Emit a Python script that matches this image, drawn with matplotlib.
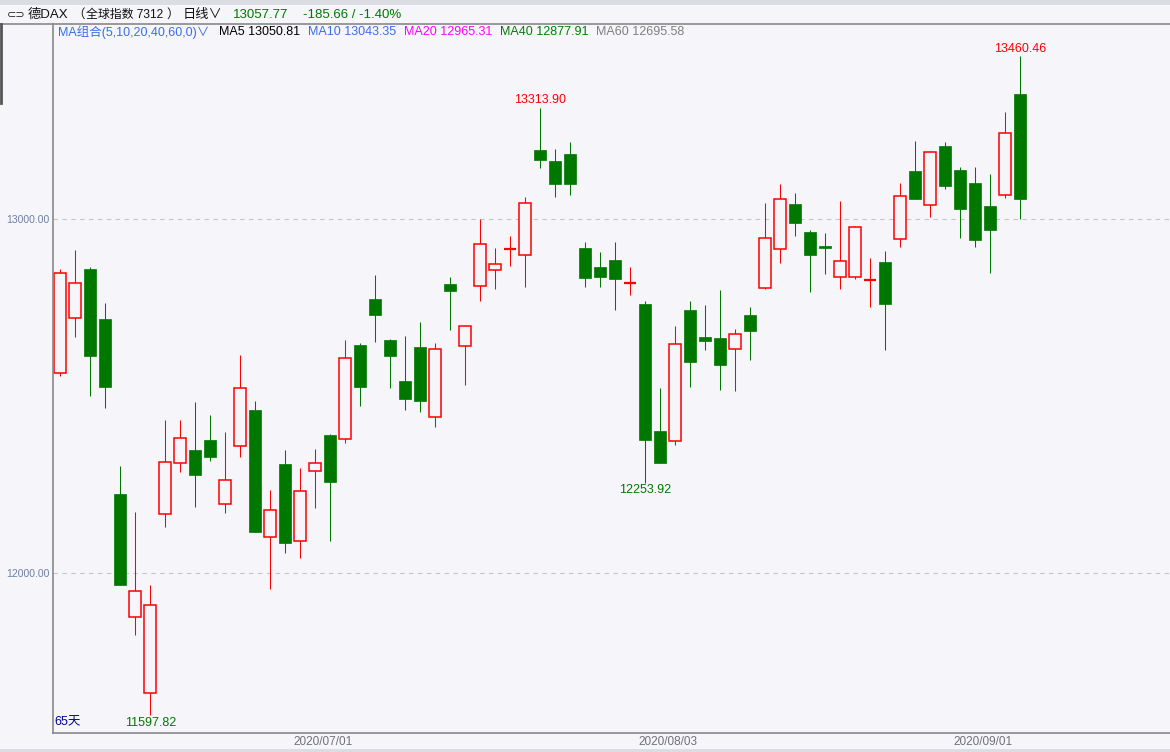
import matplotlib
matplotlib.use('Agg')
import matplotlib.pyplot as plt
from matplotlib.patches import Rectangle
from matplotlib.lines import Line2D

# daily DAX candles, 65 days (2020-06-05 .. 2020-09-03)
opens = [12564, 12719, 12859, 12718, 12223, 11875, 11660, 12166, 12310, 12347,
         12376, 12194, 12358, 12460, 12101, 12308, 12090, 12287, 12390, 12378,
         12644, 12774, 12658, 12542, 12638, 12440, 12816, 12640, 12810, 12855,
         12915, 12898, 13195, 13164, 13184, 12918, 12864, 12884, 12820, 12760,
         12401, 12372, 12743, 12667, 12664, 12632, 12729, 12804, 12914, 13042,
         12963, 12924, 12835, 12835, 12827, 12879, 12943, 13136, 13039, 13206,
         13138, 13102, 13037, 13069, 13353]
highs = [12859, 12912, 12864, 12763, 12302, 12172, 11966, 12432, 12432, 12483,
         12446, 12398, 12616, 12486, 12234, 12347, 12297, 12350, 12392, 12658,
         12650, 12842, 12661, 12670, 12709, 12650, 12836, 12697, 13000, 12918,
         12952, 13062, 13313.90, 13198, 13218, 12935, 12907, 12935, 12864, 12768,
         12523, 12697, 12768, 12757, 12799, 12689, 12751, 13045, 13099, 13074,
         12969, 12960, 13051, 12980, 12890, 12910, 13102, 13220, 13192, 13218,
         13147, 13147, 13127, 13302, 13460.46]
lows = [12557, 12668, 12501, 12467, 11967, 11826, 11597.82, 12131, 12286, 12187,
        12317, 12170, 12329, 12117, 11956, 12057, 12043, 12184, 12091, 12368,
        12473, 12653, 12523, 12461, 12456, 12413, 12686, 12532, 12769, 12803,
        12868, 12809, 13145, 13063, 13069, 12809, 12809, 12744, 12786, 12253.92,
        12312, 12362, 12526, 12631, 12518, 12515, 12603, 12801, 12877, 12953,
        12795, 12846, 12803, 12831, 12752, 12631, 12922, 13057, 13007, 13086,
        12947, 12922, 12848, 13060, 12999]
closes = [12847, 12818, 12614, 12526, 11967, 11948, 11909, 12313, 12381, 12278,
          12329, 12262, 12522, 12117, 12177, 12086, 12231, 12310, 12258, 12607,
          12526, 12730, 12614, 12492, 12487, 12632, 12797, 12697, 12929, 12872,
          12915, 13044, 13168, 13100, 13100, 12834, 12837, 12831, 12820, 12377,
          12312, 12646, 12597, 12656, 12588, 12674, 12684, 12946, 13056, 12990,
          12899, 12919, 12881, 12977, 12827, 12761, 13064, 13057, 13188, 13094,
          13029, 12942, 12970, 13243.43, 13057.77]

date_ticks = [18, 41, 62]
date_labels = ['2020/07/01', '2020/08/03', '2020/09/01']
price_ticks = [12000, 13000]
high_marks = [32, 64]
low_marks = [6, 39]

ma_names = ['MA5', 'MA10', 'MA20', 'MA40', 'MA60']
ma_values = ['13050.81', '13043.35', '12965.31', '12877.91', '12695.58']

BG = '#f5f5fa'
RED = '#ff0000'
GREEN = '#007800'
W, H = 1170, 752
FONT = ['Liberation Sans', 'Noto Sans CJK SC', 'DejaVu Sans']
plt.rcParams['font.family'] = FONT

fig = plt.figure(figsize=(W / 100, H / 100), dpi=100, facecolor=BG)


def fx(px):
    return px / W


def fy(py):
    return 1 - py / H


ax = fig.add_axes([fx(53), fy(733), fx(1170) - fx(53), fy(24) - fy(733)])
ax.set_facecolor(BG)
ax.set_xlim((53 - 60.3) / 15, (1170 - 60.3) / 15)
ax.set_ylim(13000 - (733 - 219) * 2.825, 13000 + (219 - 24) * 2.825)
for s in ax.spines.values():
    s.set_visible(False)

for p in price_ticks:
    ax.axhline(p, color='#c4c4cc', lw=0.8, ls=(0, (4, 4)), zorder=0)

bw = 0.82
lw = 0.75
for i in range(len(opens)):
    o, h, l, c = opens[i], highs[i], lows[i], closes[i]
    col = RED if c >= o else GREEN
    ax.vlines(i, l, h, color=col, lw=lw, zorder=2)
    if o == c:
        ax.hlines(o, i - bw / 2, i + bw / 2, color=col, lw=1.6, zorder=3)
    elif c > o:
        ax.add_patch(Rectangle((i - bw / 2, o), bw, c - o, facecolor=BG,
                               edgecolor=col, lw=1.1, zorder=3))
    else:
        ax.add_patch(Rectangle((i - bw / 2, c), bw, o - c, facecolor=col,
                               edgecolor=col, lw=0.5, zorder=3))

for i in high_marks:
    ax.annotate('%.2f' % highs[i], (i, highs[i]), xytext=(0, 1),
                textcoords='offset points', ha='center', va='bottom',
                color=RED, fontsize=9)
for i in low_marks:
    ax.annotate('%.2f' % lows[i], (i, lows[i]), xytext=(0, -1),
                textcoords='offset points', ha='center', va='top',
                color=GREEN, fontsize=9)

ax.text(0.001, 11 / 709, '65天', transform=ax.transAxes, color='#0000a0',
        fontsize=9, ha='left', va='center')

ax.set_yticks(price_ticks)
ax.set_yticklabels(['%.2f' % p for p in price_ticks], color='#7080a0', fontsize=7.5)
ax.set_xticks([t - 0.5 for t in date_ticks])
ax.set_xticklabels(date_labels, color='#707078', fontsize=8.5)
ax.tick_params(length=0, pad=2.5)

# frame lines and strips
fig.add_artist(Line2D([fx(53), fx(53)], [fy(24), fy(733)], color='#888888', lw=1.2))
fig.add_artist(Line2D([fx(53), 1], [fy(733), fy(733)], color='#888888', lw=1.2))
fig.add_artist(Line2D([0, 1], [fy(23.5), fy(23.5)], color='#888888', lw=1.2))
fig.add_artist(Line2D([fx(1), fx(1)], [fy(24), fy(103)], color='#555555', lw=2))
fig.add_artist(Rectangle((0, fy(5)), 1, fy(0) - fy(5), transform=fig.transFigure,
                         facecolor='#dcdde3', edgecolor='none'))
fig.add_artist(Rectangle((0, 0), 1, fy(749), transform=fig.transFigure,
                         facecolor='#dcdde3', edgecolor='none'))

# header row 1
fig.text(fx(7), fy(15), '⊂⊃', fontsize=8, va='center', color='#222222', family='DejaVu Sans')
fig.text(fx(27.5), fy(15), '德DAX', fontsize=9.5, va='center', color='#111111')
fig.text(fx(72), fy(15), '（', fontsize=9, va='center', color='#111111')
fig.text(fx(86), fy(15), '全球指数 7312', fontsize=8.6, va='center', color='#111111')
fig.text(fx(166), fy(15), '）', fontsize=9, va='center', color='#111111')
fig.text(fx(183), fy(15), '日线∨', fontsize=9.5, va='center', color='#111111')
fig.text(fx(233), fy(15), '%.2f' % closes[-1], fontsize=9.5, va='center', color=GREEN)
chg = closes[-1] - closes[-2]
fig.text(fx(303), fy(15), '%.2f / %.2f%%' % (chg, chg / closes[-2] * 100),
         fontsize=9.5, va='center', color=GREEN)

# header row 2
fig.text(fx(58), fy(32), 'MA组合(5,10,20,40,60,0)∨', fontsize=9, va='center', color='#3a6ee8')
ma_colors = ['#000000', '#3a6ee8', '#ff00ff', '#008000', '#808080']
ma_x = [219, 308, 404, 500, 596]
for n, v, c, x in zip(ma_names, ma_values, ma_colors, ma_x):
    fig.text(fx(x), fy(32), n + ' ' + v, fontsize=9, va='center', color=c)

fig.savefig('out.png', dpi=100, facecolor=BG)
